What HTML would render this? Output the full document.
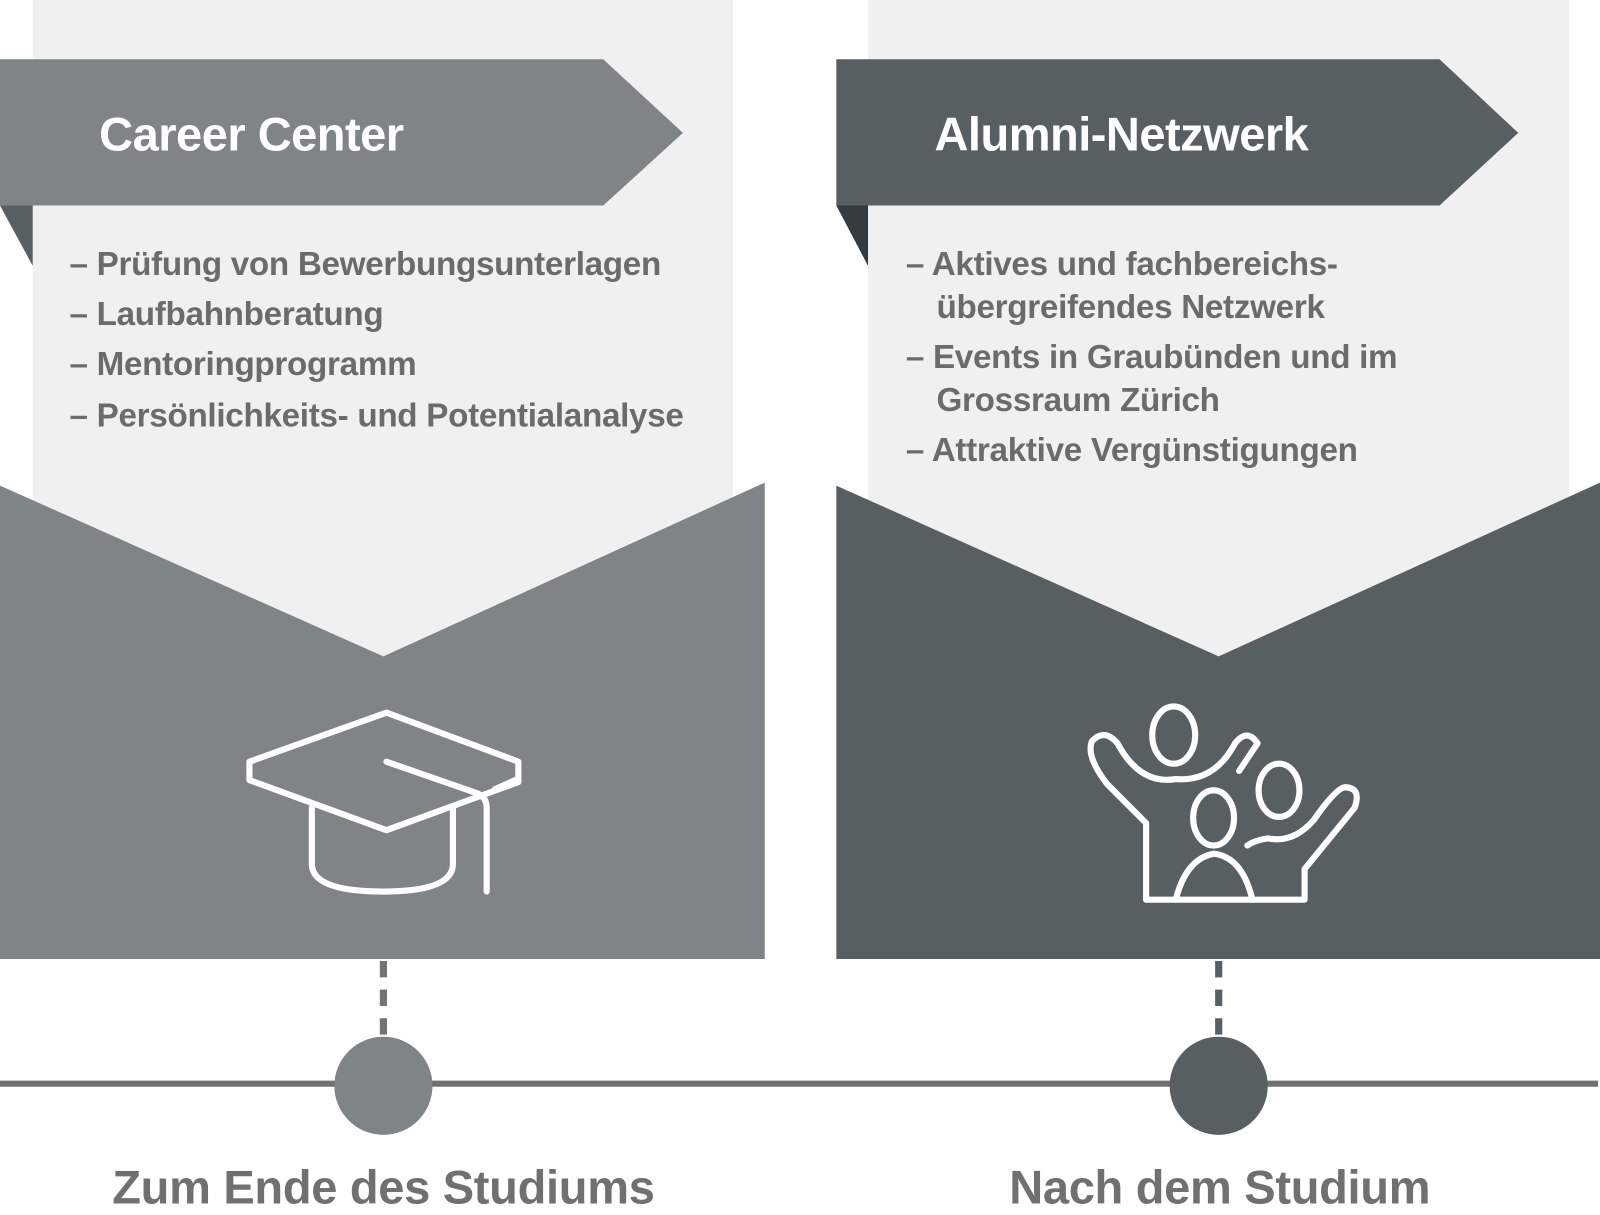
<!DOCTYPE html>
<html><head><meta charset="utf-8"><style>
body{margin:0;width:1600px;height:1214px;background:#fff;overflow:hidden;position:relative;font-family:"Liberation Sans",sans-serif}
#w{position:absolute;left:0;top:0;width:1565px;height:1188px;transform:scale(1.0224);transform-origin:0 0}
.t{position:absolute;white-space:nowrap}
.h{color:#fff;font-weight:bold;font-size:46px;letter-spacing:-0.5px}
.li{color:#6b6b6b;font-size:32.5px;font-weight:bold;letter-spacing:-0.3px}
.lab{color:#707070;font-weight:bold;font-size:46px;text-align:center;width:700px;letter-spacing:-0.3px}
</style></head><body><div id="w">
<svg width="1565" height="1188" style="position:absolute;left:0;top:0">
<rect x="32" y="0" width="685" height="650" fill="#f0f0f0"/>
<rect x="849" y="0" width="686" height="650" fill="#f0f0f0"/>
<polygon points="0,58 590,58 668,130 590,201 0,201" fill="#7f8487"/>
<polygon points="0,201 32,201 32,260" fill="#585f63"/>
<polygon points="818,58 1408,58 1485,130 1408,201 818,201" fill="#585f63"/>
<polygon points="818,201 849,201 849,260" fill="#353b3e"/>
<polygon points="0,475 375,642 748,472 748,938 0,938" fill="#7f8487"/>
<polygon points="818,475 1192,642 1565,472 1565,938 818,938" fill="#585f63"/>
<line x1="0" y1="1060" x2="1563" y2="1060" stroke="#707070" stroke-width="6"/>
<line x1="375" y1="940" x2="375" y2="1015" stroke="#6f7477" stroke-width="7" stroke-dasharray="16,12"/>
<line x1="1192" y1="940" x2="1192" y2="1015" stroke="#585f63" stroke-width="7" stroke-dasharray="16,12"/>
<circle cx="375" cy="1062" r="48" fill="#7f8487"/>
<circle cx="1192" cy="1062" r="48" fill="#585f63"/>
<g fill="none" stroke="#fff" stroke-width="6" stroke-linecap="round" stroke-linejoin="round">
<polygon points="244,745 378,697 507,745 507,765 378,812 244,763"/>
<line x1="378" y1="745" x2="467" y2="776"/>
<path d="M467,776 Q476,780 476,790 L476,872"/>
<line x1="484" y1="772" x2="506" y2="762"/>
<path d="M305,790 L305,845 Q305,872 375,872 Q443,872 443,845 L443,790"/>
<ellipse cx="1148" cy="719" rx="21" ry="28"/>
<ellipse cx="1187" cy="800" rx="20" ry="27"/>
<ellipse cx="1251" cy="773" rx="20" ry="26"/>
<path d="M1121,880 L1121,805 L1083,767 Q1062,740 1068,725 Q1080,712 1093,727 Q1115,768 1150,762 Q1188,765 1208,727 Q1220,712 1230,727 L1212,754"/>
<path d="M1121,880 L1276,880 L1276,850 L1325,790 Q1332,770 1315,770 Q1306,772 1285,802 Q1265,825 1240,820 Q1227,822 1220,827"/>
<path d="M1150,880 Q1160,840 1187,835 Q1215,838 1225,880"/>
</g>
</svg>
<div class="t h" style="left:97px;top:104px">Career Center</div>
<div class="t h" style="left:914px;top:104px">Alumni-Netzwerk</div>
<div class="t li" style="left:68px;top:240px">– Prüfung von Bewerbungsunterlagen</div>
<div class="t li" style="left:68px;top:289px">– Laufbahnberatung</div>
<div class="t li" style="left:68px;top:338px">– Mentoringprogramm</div>
<div class="t li" style="left:68px;top:388px">– Persönlichkeits- und Potentialanalyse</div>
<div class="t li" style="left:886px;top:240px">– Aktives und fachbereichs-</div>
<div class="t li" style="left:916px;top:282px">übergreifendes Netzwerk</div>
<div class="t li" style="left:886px;top:331px">– Events in Graubünden und im</div>
<div class="t li" style="left:916px;top:373px">Grossraum Zürich</div>
<div class="t li" style="left:886px;top:422px">– Attraktive Vergünstigungen</div>
<div class="t lab" style="left:25px;top:1134px">Zum Ende des Studiums</div>
<div class="t lab" style="left:843px;top:1134px">Nach dem Studium</div>
</div></body></html>
